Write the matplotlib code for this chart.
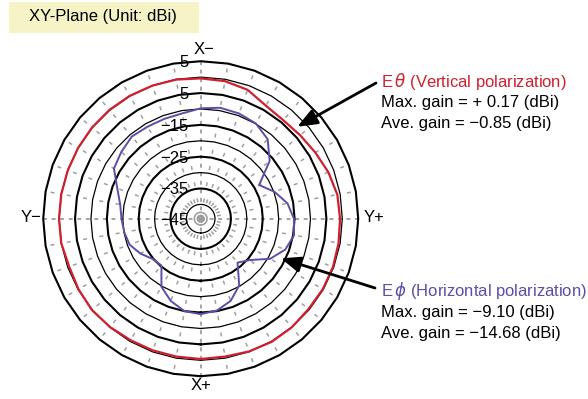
import numpy as np
import matplotlib.pyplot as plt
from matplotlib.patches import Rectangle

plt.rcParams['font.family'] = ['Liberation Sans', 'DejaVu Sans']
plt.rcParams['mathtext.fontset'] = 'dejavusans'

# azimuth in degrees, phi = 0 along X+, 10 degree steps
phi_deg = np.arange(0, 360, 10)

# E-theta (vertical polarization), dBi
e_theta = [-0.4, -0.5, -0.1, 0.17, 0.05, -0.3, -0.2, -0.25, -0.5, -0.7,
           -0.9, -1.8, -2.9, -3.7, -4.1, -3.5, -1.4, -0.6, -0.4, -0.1,
           0.0, 0.1, 0.15, 0.1, 0.0, -0.05, 0.0, 0.05, 0.0, -0.5,
           -0.15, 0.15, -0.1, -0.4, -0.45, -0.5]

# E-phi (horizontal polarization), dBi
e_phi = [-14.5, -15.2, -17.0, -20.3, -26.5, -24.3, -19.3, -16.2, -14.7, -15.2,
         -16.8, -19.8, -23.3, -16.2, -11.8, -9.9, -9.3, -9.1, -9.8, -10.9,
         -11.1, -11.1, -10.8, -11.9, -13.0, -16.6, -18.8, -19.6, -20.1, -20.7,
         -22.6, -24.8, -25.3, -19.8, -17.0, -15.0]

ring_levels = [5, 0, -5, -10, -15, -20, -25, -30, -35, -40]
label_levels = [5, -5, -15, -25, -35, -44.5]
ring_labels = ['5', '5', '\u221215', '\u221225', '\u221235', '\u221245']

r_min, r_max = -44.5, 5
red = '#d0202f'
blue = '#5a4fa6'

fig = plt.figure(figsize=(5.88, 3.99), dpi=100)
ax = fig.add_axes([0.0735, 0.0571, 0.5357, 0.7895], projection='polar')
ax.set_theta_zero_location('S')
ax.set_theta_direction(1)
ax.set_rlim(r_min, r_max)
ax.grid(False)
ax.set_xticks([])
ax.set_yticks([])
ax.spines['polar'].set_visible(False)

# spokes every 10 deg, the four axes drawn denser
for a in range(0, 360, 10):
    t = np.radians(a)
    if a % 90 == 0:
        ax.plot([t, t], [r_min, r_max], color='#8c8c8c', lw=1.1,
                dashes=(2.6, 3.0), zorder=1, clip_on=False)
    else:
        ax.plot([t, t], [r_min, r_max], color='#a0a0a0', lw=1.1,
                dashes=(2.6, 8.2), zorder=1)

# rings drawn as 10-degree polygons
th = np.radians(np.arange(0, 361, 10))
for lvl in ring_levels:
    thick = (lvl - 5) % 10 == 0
    ax.plot(th, np.full(th.shape, lvl), color='k',
            lw=1.5 if thick else 0.9, zorder=2, clip_on=False)
ax.plot(th, np.full(th.shape, r_min + 2.0), color='#a0a0a0', lw=1.2, zorder=1)

# pattern traces
th_p = np.radians(np.append(phi_deg, 360))
ax.plot(th_p, np.append(e_theta, e_theta[0]), color=red, lw=1.6, zorder=3)
ax.plot(th_p, np.append(e_phi, e_phi[0]), color=blue, lw=1.4, zorder=3)

# ring labels along the X- axis
for lvl, txt in zip(label_levels, ring_labels):
    ax.annotate(txt, xy=(np.pi, lvl), xytext=(-9, -1), textcoords='offset points',
                ha='right', va='center', fontsize=12, zorder=4)

# axis names
fig.text(204 / 588, 1 - 49 / 399, 'X\u2212', fontsize=12, ha='center', va='center')
fig.text(201 / 588, 1 - 386 / 399, 'X+', fontsize=12, ha='center', va='center')
fig.text(31 / 588, 1 - 217 / 399, 'Y\u2212', fontsize=12, ha='center', va='center')
fig.text(374 / 588, 1 - 217 / 399, 'Y+', fontsize=12, ha='center', va='center')

# title box
fig.patches.append(Rectangle((9 / 588, 1 - 33 / 399), 190 / 588, 31 / 399,
                             transform=fig.transFigure, facecolor='#f6f4c6',
                             edgecolor='none', zorder=0))
fig.text(103 / 588, 1 - 17 / 399, 'XY-Plane (Unit: dBi)', fontsize=12,
         ha='center', va='center')

# annotations
arrow = dict(arrowstyle='-|>,head_length=0.6,head_width=0.24', color='k',
             lw=2.0, mutation_scale=20, shrinkA=0, shrinkB=0)
ax.annotate('', xy=(np.radians(133.6), -2.6), xycoords='data',
            xytext=(376 / 588, 1 - 83 / 399), textcoords='figure fraction',
            arrowprops=arrow, annotation_clip=False)
ax.annotate('', xy=(np.radians(63.7), -16.4), xycoords='data',
            xytext=(375 / 588, 1 - 288 / 399), textcoords='figure fraction',
            arrowprops=arrow, annotation_clip=False)

x0 = 381 / 588
fig.text(x0, 1 - 81.5 / 399, r'E$\,\theta$ (Vertical polarization)', color=red,
         fontsize=12, va='center')
fig.text(x0, 1 - 102.5 / 399, 'Max. gain = + 0.17 (dBi)', fontsize=12, va='center')
fig.text(x0, 1 - 123.5 / 399, 'Ave. gain = \u22120.85 (dBi)', fontsize=12, va='center')
fig.text(x0, 1 - 290.5 / 399, r'E$\,\phi$ (Horizontal polarization)', color=blue,
         fontsize=12, va='center')
fig.text(x0, 1 - 312.5 / 399, 'Max. gain = \u22129.10 (dBi)', fontsize=12, va='center')
fig.text(x0, 1 - 333.5 / 399, 'Ave. gain = \u221214.68 (dBi)', fontsize=12, va='center')

fig.savefig('out.png', dpi=100)
